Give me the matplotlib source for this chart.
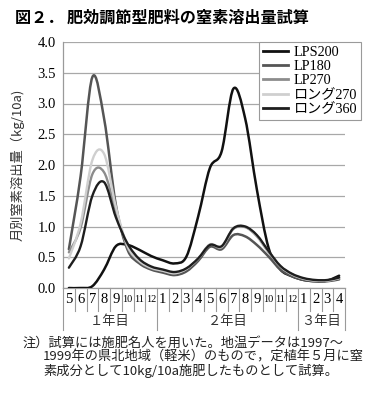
import matplotlib

matplotlib.use("Agg")
import matplotlib.pyplot as plt
from matplotlib.lines import Line2D
from matplotlib.path import Path
from matplotlib.patches import PathPatch

JP = "Noto Sans CJK JP"
SERIF = "Liberation Serif"

# 月（定植年5月〜3年目4月）
months = [5, 6, 7, 8, 9, 10, 11, 12,
          1, 2, 3, 4, 5, 6, 7, 8, 9, 10, 11, 12,
          1, 2, 3, 4]
years = ["１年目", "２年目", "３年目"]
year_spans = [(0, 8), (8, 20), (20, 24)]

names = ["LPS200", "LP180", "LP270", "ロング270", "ロング360"]
lps200 = [0.00, 0.00, 0.03, 0.30, 0.68, 0.70, 0.62, 0.52,
          0.45, 0.40, 0.51, 1.16, 1.95, 2.22, 3.24, 2.76, 1.60, 0.65, 0.30, 0.19,
          0.13, 0.11, 0.12, 0.20]
lp180 = [0.63, 1.82, 3.43, 2.75, 1.35, 0.62, 0.40, 0.30,
         0.25, 0.21, 0.27, 0.44, 0.67, 0.63, 0.86, 0.84, 0.70, 0.51, 0.30, 0.19,
         0.13, 0.11, 0.11, 0.14]
lp270 = [0.58, 0.98, 1.85, 1.88, 1.25, 0.66, 0.43, 0.32,
         0.28, 0.24, 0.31, 0.47, 0.70, 0.66, 0.96, 0.99, 0.84, 0.58, 0.35, 0.22,
         0.15, 0.12, 0.12, 0.16]
long270 = [0.48, 1.05, 2.08, 2.18, 1.32, 0.68, 0.44, 0.33,
           0.28, 0.24, 0.31, 0.48, 0.71, 0.67, 0.97, 1.00, 0.85, 0.59, 0.35, 0.22,
           0.15, 0.12, 0.12, 0.16]
long360 = [0.33, 0.68, 1.50, 1.72, 1.15, 0.72, 0.47, 0.35,
           0.30, 0.26, 0.32, 0.48, 0.70, 0.68, 0.97, 1.00, 0.86, 0.60, 0.36, 0.23,
           0.16, 0.13, 0.13, 0.17]
series = [lps200, lp180, lp270, long270, long360]
colors = ["#111111", "#555555", "#8c8c8c", "#cfcfcf", "#1e1e1e"]
widths = [1.8, 1.8, 1.7, 1.7, 1.7]


def smooth_path(xs, ys):
    # Excel風のなめらか線（Catmull-Rom→ベジェ）
    verts = [(xs[0], ys[0])]
    codes = [Path.MOVETO]
    n = len(xs)
    for i in range(n - 1):
        p0 = (xs[max(i - 1, 0)], ys[max(i - 1, 0)])
        p1 = (xs[i], ys[i])
        p2 = (xs[i + 1], ys[i + 1])
        p3 = (xs[min(i + 2, n - 1)], ys[min(i + 2, n - 1)])
        c1 = (p1[0] + (p2[0] - p0[0]) / 6, p1[1] + (p2[1] - p0[1]) / 6)
        c2 = (p2[0] - (p3[0] - p1[0]) / 6, p2[1] - (p3[1] - p1[1]) / 6)
        verts += [c1, c2, p2]
        codes += [Path.CURVE4] * 3
    return Path(verts, codes)


fig = plt.figure(figsize=(3.77, 4.01), dpi=100)
ax = fig.add_axes([63 / 377, 113 / 401, 282 / 377, 246 / 401])

x = list(range(len(months)))
for ys, c, lw in zip(series, colors, widths):
    ax.add_patch(PathPatch(smooth_path(x, ys), fill=False, edgecolor=c,
                           lw=lw, capstyle="round", joinstyle="round", zorder=3))

ax.set_xlim(-0.5, len(months) - 0.5)
ax.set_ylim(0, 4.0)
ax.set_yticks([i * 0.5 for i in range(9)])
ax.set_yticklabels([f"{i * 0.5:.1f}" for i in range(9)], family=SERIF, fontsize=10.5)
ax.tick_params(axis="y", length=0, pad=5)
ax.set_xticks([])
ax.grid(axis="y", color="#a8a8a8", lw=0.9)
for s in ["top", "right", "bottom"]:
    ax.spines[s].set_visible(False)
ax.spines["left"].set_color("#9a9a9a")
ax.spines["left"].set_linewidth(0.9)

# 横軸の月・年の表
tr = ax.get_xaxis_transform()
ax.plot([-0.5, len(months) - 0.5], [0, 0], transform=tr, color="#9a9a9a",
        lw=0.9, clip_on=False)
for i in range(len(months) + 1):
    edge = i in (0, 8, 20, 24)
    ax.plot([i - 0.5, i - 0.5], [0, -0.171 if edge else -0.093], transform=tr,
            color="#9a9a9a", lw=0.8, clip_on=False)
for i, m in enumerate(months):
    ax.text(i, -0.048, str(m), transform=tr, ha="center", va="center",
            family=SERIF, fontsize=10.5 if m < 10 else 7.4)
for label, (a, b) in zip(years, year_spans):
    ax.text((a + b - 1) / 2, -0.138, label, transform=tr, ha="center",
            va="center", family=JP, fontsize=9.5, color="#333333")

ax.set_ylabel("月別窒素溶出量（kg/10a)", family=[JP], fontsize=9.5,
              color="#333333", labelpad=9)

handles = [Line2D([], [], color=c, lw=2.0) for c in colors]
leg = ax.legend(handles, names, loc="upper left",
                bbox_to_anchor=(259 / 377, 1 - 42 / 401),
                bbox_transform=fig.transFigure, borderaxespad=0,
                prop={"family": [SERIF, JP], "size": 10.2},
                handlelength=1.8, handletextpad=0.4, labelspacing=0.1,
                borderpad=0.25, fancybox=False, framealpha=1)
leg.get_frame().set_edgecolor("#9a9a9a")
leg.get_frame().set_linewidth(0.8)

fig.text(15 / 377, 1 - 18 / 401, "図２． 肥効調節型肥料の窒素溶出量試算",
         family=JP, fontsize=11.6, fontweight="bold", va="center", ha="left")

notes = [
    (23, 343, "注）試算には施肥名人を用いた。地温データは1997～"),
    (43, 357, "1999年の県北地域（軽米）のもので，定植年５月に窒"),
    (43, 371, "素成分として10kg/10a施肥したものとして試算。"),
]
for nx, ny, t in notes:
    fig.text(nx / 377, 1 - ny / 401, t, family=[JP], fontsize=9.5,
             va="center", ha="left", color="#222222")

fig.savefig("out.png", dpi=100)
